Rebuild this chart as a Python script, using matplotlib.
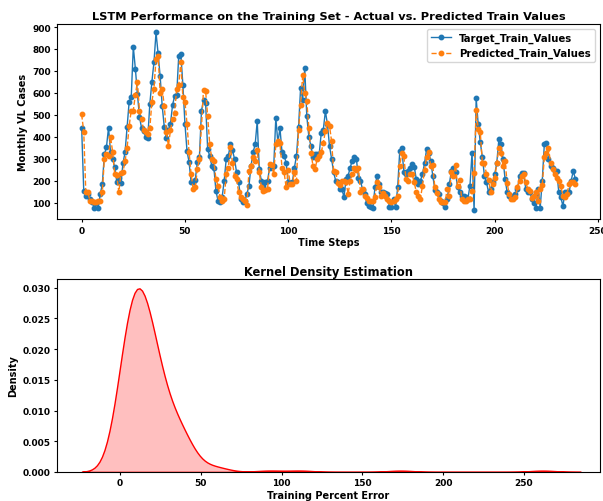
import numpy as np
import pandas as pd
import matplotlib
matplotlib.use("Agg")
import matplotlib.pyplot as plt
import seaborn as sns

# values (monthly VL cases per time step)
target_train = [
    440, 155, 133, 140, 118, 105, 78, 100, 78, 140,
    185, 320, 353, 442, 330, 300, 262, 195, 215, 190,
    280, 330, 445, 560, 580, 810, 710, 595, 490, 440,
    425, 400, 395, 550, 650, 740, 875, 780, 675, 540,
    445, 395, 430, 460, 545, 585, 590, 770, 778, 637,
    460, 336, 285, 193, 195, 205, 284, 307, 517, 570,
    555, 344, 313, 268, 260, 155, 110, 103, 125, 200,
    300, 313, 366, 340, 300, 238, 193, 118, 103, 110,
    140, 178, 268, 330, 366, 472, 253, 200, 178, 193,
    200, 260, 265, 268, 487, 373, 440, 330, 313, 283,
    193, 190, 193, 260, 313, 444, 622, 570, 712, 494,
    400, 358, 307, 322, 320, 322, 418, 433, 517, 457,
    358, 300, 238, 200, 193, 165, 163, 125, 208, 223,
    260, 292, 307, 300, 215, 200, 160, 140, 100, 87,
    80, 78, 170, 223, 185, 148, 148, 145, 140, 80,
    80, 118, 80, 170, 336, 351, 238, 230, 245, 260,
    275, 265, 208, 185, 200, 230, 280, 344, 328, 292,
    223, 160, 148, 140, 110, 100, 80, 118, 185, 245,
    260, 238, 170, 148, 133, 133, 125, 118, 178, 328,
    65, 575, 457, 375, 307, 223, 193, 148, 163, 193,
    230, 283, 390, 366, 298, 208, 148, 133, 133, 125,
    140, 163, 223, 235, 235, 163, 148, 148, 118, 100,
    78, 163, 78, 200, 366, 374, 298, 268, 260, 245,
    245, 148, 125, 85, 148, 148, 148, 200, 245, 210,
]

predicted_train = [
    502, 424, 150, 148, 110, 110, 105, 105, 110, 110,
    150, 300, 322, 314, 400, 330, 230, 225, 148, 235,
    240, 290, 350, 450, 520, 520, 592, 650, 517, 480,
    430, 420, 415, 440, 560, 620, 755, 770, 600, 620,
    540, 420, 360, 430, 480, 510, 620, 635, 740, 580,
    560, 460, 330, 230, 163, 170, 253, 300, 445, 615,
    610, 494, 366, 300, 290, 208, 178, 125, 110, 118,
    230, 260, 355, 283, 223, 208, 148, 125, 118, 108,
    90, 245, 268, 307, 290, 340, 238, 170, 155, 160,
    163, 275, 270, 230, 366, 381, 370, 260, 240, 170,
    250, 185, 185, 238, 200, 433, 547, 680, 600, 562,
    440, 328, 268, 253, 298, 315, 330, 373, 426, 463,
    450, 380, 245, 240, 190, 180, 200, 200, 193, 140,
    200, 230, 260, 250, 260, 148, 163, 133, 120, 110,
    110, 110, 125, 193, 170, 133, 145, 133, 115, 110,
    103, 110, 115, 133, 268, 328, 313, 208, 200, 230,
    230, 193, 150, 133, 118, 178, 250, 307, 332, 268,
    270, 170, 145, 118, 105, 105, 105, 165, 130, 240,
    223, 270, 178, 205, 118, 110, 110, 118, 118, 155,
    235, 524, 435, 420, 283, 280, 230, 205, 148, 185,
    215, 280, 351, 328, 268, 290, 190, 140, 118, 118,
    125, 170, 200, 223, 230, 193, 163, 155, 120, 130,
    150, 110, 165, 180, 307, 328, 351, 283, 253, 230,
    215, 200, 175, 133, 125, 140, 185, 195, 193, 185,
]

target = np.array(target_train, dtype=float)
pred = np.array(predicted_train, dtype=float)
pct_err = np.abs(target - pred) / target * 100

plt.rcParams['font.weight'] = 'bold'
plt.rcParams['axes.titleweight'] = 'bold'
plt.rcParams['axes.labelweight'] = 'bold'
plt.rcParams['xtick.major.size'] = 2.5
plt.rcParams['ytick.major.size'] = 2.5
plt.rcParams['xtick.major.pad'] = 2
plt.rcParams['ytick.major.pad'] = 2

fig = plt.figure(figsize=(6.03, 5.02), dpi=100)
ax1 = fig.add_axes([0.0945, 0.561, 0.9005, 0.390])
ax2 = fig.add_axes([0.0945, 0.058, 0.9005, 0.384])

steps = np.arange(len(target))
ax1.plot(steps, target, '-o', color='#1f77b4', lw=1, ms=3.2, label='Target_Train_Values')
ax1.plot(steps, pred, '--o', color='#ff7f0e', lw=1, ms=3.2, label='Predicted_Train_Values')
ax1.set_title('LSTM Performance on the Training Set - Actual vs. Predicted Train Values', fontsize=8.2, pad=3)
ax1.set_xlabel('Time Steps', fontsize=7, labelpad=2)
ax1.set_ylabel('Monthly VL Cases', fontsize=7, labelpad=3)
ax1.tick_params(labelsize=6.5)
ax1.legend(loc='upper right', fontsize=7.3)

sns.kdeplot(pct_err, ax=ax2, fill=True, color='red')
ax2.set_xlim(-39, 297)
ax2.set_title('Kernel Density Estimation', fontsize=8.3, pad=3)
ax2.set_xlabel('Training Percent Error', fontsize=7, labelpad=2)
ax2.set_ylabel('Density', fontsize=7, labelpad=3)
ax2.tick_params(labelsize=6.5)

fig.savefig('out.png', dpi=100)
